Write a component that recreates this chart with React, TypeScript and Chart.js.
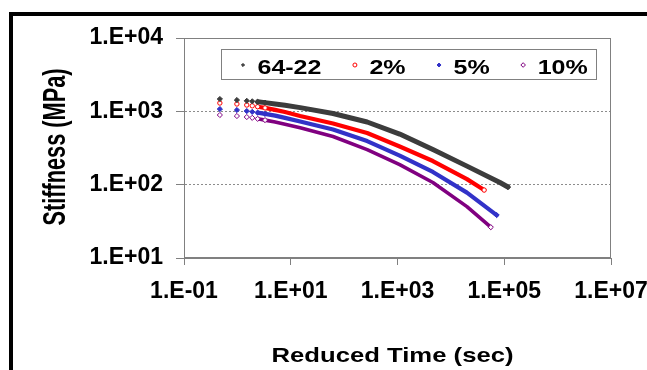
import React, { useEffect, useRef } from "react";
import { Chart, registerables } from "chart.js";
import { drawPoint } from "chart.js/helpers";

Chart.register(...registerables);

// ---- data ----
const seriesLabels = ["64-22", "2%", "5%", "10%"];
const time6422 = [0.47, 0.98, 1.5, 1.9, 2.4, 3.3, 5.1, 7.8, 15, 62, 270, 1100, 4600, 20000, 83000, 117000];
const stiff6422 = [1472, 1426, 1391, 1369, 1348, 1315, 1262, 1207, 1123, 933, 715, 490, 301, 179, 107, 92.8];
const time2 = [0.47, 0.98, 1.5, 1.9, 2.4, 3.3, 5.1, 7.8, 15, 62, 270, 1100, 4600, 20000, 42000];
const stiff2 = [1298, 1259, 1219, 1189, 1156, 1113, 1048, 978, 863, 682, 506, 331, 210, 119, 84.4];
const time5 = [0.47, 0.98, 1.5, 1.9, 2.4, 3.3, 5.1, 7.8, 15, 62, 270, 1100, 4600, 20000, 72000];
const stiff5 = [1075, 1042, 1009, 984, 960, 924, 874, 815, 726, 565, 393, 249, 149, 78, 38.5];
const time10 = [0.47, 0.98, 1.5, 1.9, 2.4, 3.3, 5.1, 7.8, 15, 62, 270, 1100, 4600, 20000, 56000];
const stiff10 = [891, 863, 836, 815, 790, 759, 715, 667, 596, 453, 301, 188, 107, 50.2, 26.3];

const xTickValues = [1e-1, 1e1, 1e3, 1e5, 1e7];
const xTickLabels = ["1.E-01", "1.E+01", "1.E+03", "1.E+05", "1.E+07"];
const yTickValues = [1e1, 1e2, 1e3, 1e4];
const yTickLabels = ["1.E+01", "1.E+02", "1.E+03", "1.E+04"];
const xTitle = "Reduced Time (sec)";
const yTitle = "Stiffness (MPa)";

const FONT = "'Liberation Sans', Arial, sans-serif";

type SeriesStyle = {
  color: string;
  fill: string;
  pointStyle: any;
  radius: number;
  lineWidth: number;
  legendRadius: number;
};
const styles: SeriesStyle[] = [
  { color: "#3c3c3c", fill: "#3c3c3c", pointStyle: "rectRot", radius: 2.6, lineWidth: 5, legendRadius: 1.6 },
  { color: "#ff0000", fill: "#ffffff", pointStyle: "circle", radius: 2.2, lineWidth: 4.2, legendRadius: 2 },
  { color: "#3232c8", fill: "#3232c8", pointStyle: "rectRot", radius: 2.6, lineWidth: 4.2, legendRadius: 2 },
  { color: "#800080", fill: "#ffffff", pointStyle: "rectRot", radius: 2.6, lineWidth: 3.6, legendRadius: 2.3 },
];
const times = [time6422, time2, time5, time10];
const stiffs = [stiff6422, stiff2, stiff5, stiff10];

function drawFittedText(
  ctx: CanvasRenderingContext2D,
  text: string,
  x: number,
  y: number,
  targetWidth: number,
  rotate: number,
  align: CanvasTextAlign,
  baseline: CanvasTextBaseline
) {
  const w = ctx.measureText(text).width;
  const sx = targetWidth / w;
  ctx.save();
  ctx.translate(x, y);
  if (rotate) ctx.rotate(rotate);
  ctx.scale(sx, 1);
  ctx.textAlign = align;
  ctx.textBaseline = baseline;
  ctx.fillText(text, 0, 0);
  ctx.restore();
  return targetWidth;
}

const framePlugin = {
  id: "plotFrame",
  beforeDatasetsDraw(chart: any) {
    const { ctx, chartArea: a } = chart;
    ctx.save();
    ctx.strokeStyle = "#808080";
    ctx.lineWidth = 1;
    ctx.setLineDash([]);
    const l = Math.round(a.left) + 0.5;
    const t = Math.round(a.top) + 0.5;
    const r = Math.round(a.right) - 0.5;
    const b = Math.round(a.bottom) - 0.5;
    ctx.strokeRect(l, t, r - l, b - t);
    ctx.restore();
  },
};

const textPlugin = {
  id: "customText",
  afterDraw(chart: any) {
    const { ctx, chartArea: a } = chart;
    ctx.save();
    ctx.fillStyle = "#000";
    // y axis title (condensed, rotated)
    ctx.font = `bold 31px ${FONT}`;
    drawFittedText(ctx, yTitle, 56, (a.top + a.bottom) / 2 - 1, 157, -Math.PI / 2, "center", "middle");
    // x axis title (wide)
    ctx.font = `bold 21px ${FONT}`;
    drawFittedText(ctx, xTitle, (a.left + a.right) / 2 - 5, 361.5, 242, 0, "center", "alphabetic");

    // legend box
    const bx = a.left + 37;
    const by = a.top + 11;
    const bw = 375;
    const bh = 30;
    ctx.fillStyle = "#ffffff";
    ctx.fillRect(bx, by, bw, bh);
    ctx.strokeStyle = "#808080";
    ctx.lineWidth = 1;
    ctx.strokeRect(Math.round(bx) + 0.5, Math.round(by) + 0.5, bw, bh);
    ctx.font = `bold 21px ${FONT}`;
    const sx = 1.19;
    let cx = bx + 22;
    const cy = by + 16;
    chart.data.datasets.forEach((ds: any, i: number) => {
      const st = styles[i];
      ctx.save();
      ctx.fillStyle = st.fill;
      ctx.strokeStyle = st.color;
      ctx.lineWidth = 1;
      drawPoint(ctx, { pointStyle: st.pointStyle, radius: st.legendRadius, borderWidth: 1, rotation: 0 } as any, cx, cy);
      ctx.restore();
      ctx.fillStyle = "#000";
      const tx = cx + 14.5;
      const w = ctx.measureText(ds.label).width * sx;
      drawFittedText(ctx, ds.label, tx, by + 24.5, w, 0, "left", "alphabetic");
      cx = tx + w + 33.5;
    });
    ctx.restore();
  },
};

export default function App() {
  const canvasRef = useRef<HTMLCanvasElement | null>(null);

  useEffect(() => {
    const canvas = canvasRef.current;
    if (!canvas) return;
    const datasets = seriesLabels.map((label, i) => {
      const st = styles[i];
      const n = times[i].length;
      return {
        label,
        data: times[i].map((t, k) => ({ x: t, y: stiffs[i][k] })),
        showLine: true,
        tension: 0,
        borderColor: st.color,
        borderWidth: st.lineWidth,
        borderCapStyle: "round",
        borderJoinStyle: "round",
        backgroundColor: st.fill,
        pointStyle: st.pointStyle,
        pointRadius: (c: any) => (c.dataIndex < 6 || c.dataIndex === n - 1 ? st.radius : 0),
        pointBackgroundColor: st.fill,
        pointBorderColor: st.color,
        pointBorderWidth: 1,
        pointHoverRadius: 0,
        segment: {
          borderColor: (c: any) => (c.p0DataIndex < 4 ? "rgba(0,0,0,0)" : undefined),
        },
      };
    });

    const tickFont = { family: FONT, size: 23, weight: "bold" as const };

    const chart = new Chart(canvas, {
      type: "scatter",
      data: { datasets: datasets as any },
      options: {
        animation: false,
        responsive: false,
        maintainAspectRatio: false,
        devicePixelRatio: 1,
        events: [],
        layout: { padding: { top: 38, right: 36, left: 0, bottom: 0 } },
        plugins: {
          legend: { display: false },
          tooltip: { enabled: false },
        },
        scales: {
          x: {
            type: "logarithmic",
            min: xTickValues[0],
            max: xTickValues[xTickValues.length - 1],
            afterBuildTicks: (s: any) => {
              s.ticks = xTickValues.map((v) => ({ value: v }));
            },
            afterFit: (s: any) => {
              s.height = 112;
              s.paddingLeft = 0;
              s.paddingRight = 0;
            },
            ticks: {
              autoSkip: false,
              maxRotation: 0,
              minRotation: 0,
              padding: 13,
              color: "#000",
              font: tickFont,
              callback: (_v: any, idx: number) => xTickLabels[idx],
            },
            grid: {
              drawOnChartArea: false,
              tickLength: 7,
              color: "#808080",
              tickColor: "#808080",
            },
            border: { display: true, color: "#808080", width: 1 },
          },
          y: {
            type: "logarithmic",
            min: yTickValues[0],
            max: yTickValues[yTickValues.length - 1],
            afterBuildTicks: (s: any) => {
              s.ticks = yTickValues.map((v) => ({ value: v }));
            },
            afterFit: (s: any) => {
              s.width = 184;
              s.paddingTop = 0;
              s.paddingBottom = 0;
            },
            ticks: {
              autoSkip: false,
              padding: 13,
              color: "#000",
              font: tickFont,
              callback: (_v: any, idx: number) => yTickLabels[idx],
            },
            grid: {
              drawOnChartArea: true,
              tickLength: 8,
              color: "#8c8c8c",
              tickColor: "#808080",
              tickBorderDash: [],
              lineWidth: 1,
            },
            border: { display: true, color: "#808080", width: 1, dash: [2, 2] },
          },
        },
      } as any,
      plugins: [framePlugin, textPlugin],
    });
    return () => chart.destroy();
  }, []);

  return (
    <div
      style={{
        position: "fixed",
        left: 0,
        top: 0,
        width: 647,
        height: 370,
        overflow: "hidden",
        background: "#ffffff",
      }}
    >
      <div
        style={{
          position: "absolute",
          left: 9,
          top: 12,
          width: 720,
          height: 430,
          border: "4px solid #000",
          boxSizing: "border-box",
        }}
      />
      <canvas
        ref={canvasRef}
        width={647}
        height={370}
        style={{ position: "absolute", left: 0, top: 0, width: 647, height: 370 }}
      />
    </div>
  );
}
